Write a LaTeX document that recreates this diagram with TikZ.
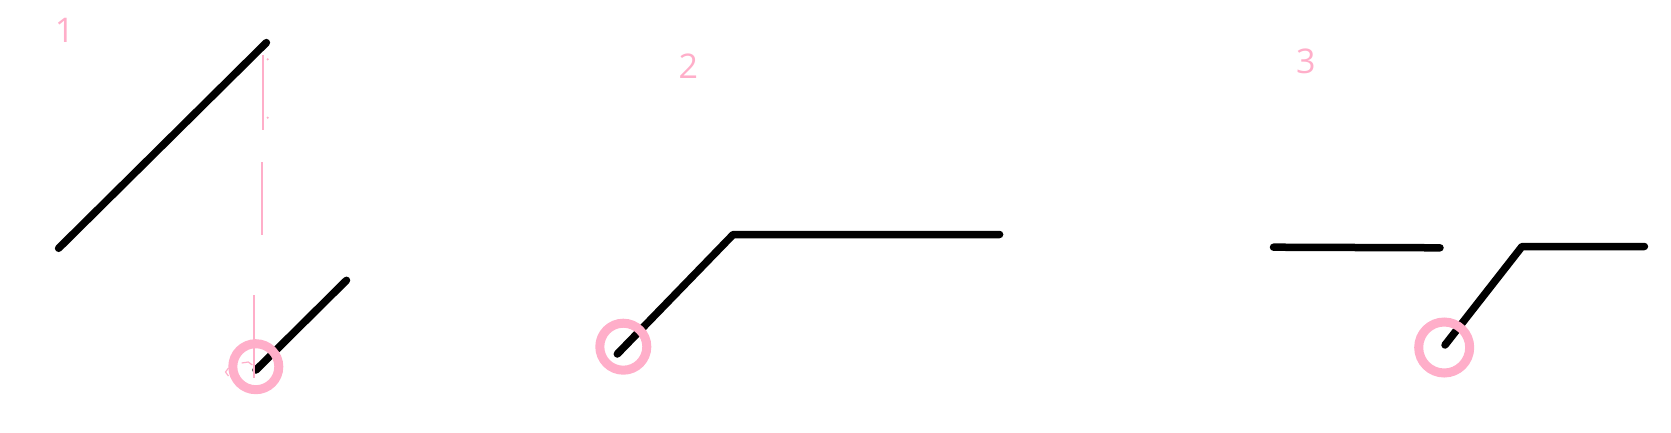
\documentclass[tikz,border=0pt]{standalone}
\usepackage{fontspec}
\setmainfont{Open Sans}
\definecolor{rose}{HTML}{FFAEC9}
\tikzset{
  stroke/.style={line width=7.5pt, black, line cap=round, line join=round},
  ring/.style={draw=rose, line width=9pt},
  guide/.style={draw=rose, line width=1.8pt},
  numlabel/.style={text=rose, inner sep=0pt, font=\fontsize{34}{38}\selectfont}
}
\begin{document}
\begin{tikzpicture}[x=1pt,y=-1pt]
\useasboundingbox (0,0) rectangle (1671,432);
% labels
\node[numlabel] (l1) at (64.5,30.5) {1};
\node[numlabel] (l2) at (688.3,66) {2};
\node[numlabel] (l3) at (1305.8,61) {3};
% panel 1
\coordinate (a1) at (58.6,248.3);
\coordinate (a2) at (266.4,42.6);
\coordinate (b1) at (256,370);
\coordinate (b2) at (346.5,280.3);
\draw[stroke] (a1) -- (a2);
\draw[stroke] (b1) -- (b2);
\coordinate (g1) at (263.3,55);  \coordinate (g2) at (263.3,130);
\coordinate (g3) at (261.7,162); \coordinate (g4) at (261.7,235);
\coordinate (g5) at (254,295);   \coordinate (g6) at (254,378);
\draw[guide] (g1) -- (g2);
\draw[guide] (g3) -- (g4);
\draw[guide] (g5) -- (g6);
\fill[rose] (267.7,59.3) circle (1.2pt);
\fill[rose] (267.7,117.7) circle (1.2pt);
\draw[rose, line width=1.2pt] (241.7,363) -- (248.3,362) -- (252.3,365);
\draw[rose, line width=1.2pt] (228.5,368) -- (225.5,372) -- (228.5,376);
\node[ring, circle, minimum size=46pt, inner sep=0pt] (c1) at (255.8,366.7) {};
% panel 2
\coordinate (p1) at (617.3,354);
\coordinate (p2) at (733.2,234.5);
\coordinate (p3) at (999.6,234.5);
\draw[stroke] (p1) -- (p2) -- (p3);
\node[ring, circle, minimum size=47pt, inner sep=0pt] (c2) at (623.3,346.7) {};
% panel 3
\coordinate (q1) at (1273.5,247.2);
\coordinate (q2) at (1440,247.8);
\draw[stroke] (q1) -- (q2);
\coordinate (r1) at (1445,345);
\coordinate (r2) at (1522,246.5);
\coordinate (r3) at (1644.4,246.5);
\draw[stroke] (r1) -- (r2) -- (r3);
\node[ring, circle, minimum size=51pt, inner sep=0pt] (c3) at (1444.2,347.5) {};
\end{tikzpicture}
\end{document}
